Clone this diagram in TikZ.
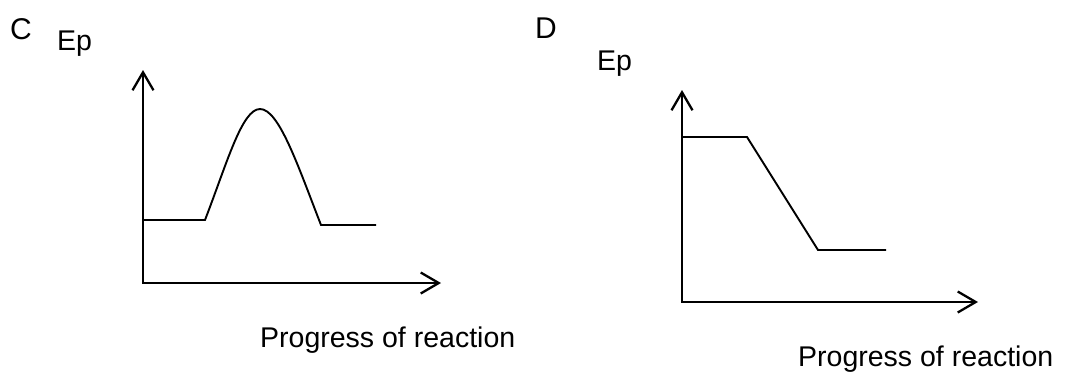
\documentclass[tikz,border=0pt]{standalone}
\usepackage{fontspec}
\setmainfont{Liberation Sans}
\usetikzlibrary{arrows.meta}
\tikzset{
  lbl/.style={inner sep=0pt, anchor=base west, font=\fontsize{28.5}{34}\selectfont},
  letter/.style={lbl, font=\fontsize{30}{36}\selectfont},
  axis/.style={line width=2.3pt, {Straight Barb[length=18pt,width=21pt]}-{Straight Barb[length=18pt,width=21pt]}},
  curve/.style={line width=1.9pt, line join=miter}
}
\begin{document}
\begin{tikzpicture}[x=1pt,y=-1pt]
\useasboundingbox (0,0) rectangle (1067,376);
% panel C
\node[letter] (labC) at (10,39) {C};
\node[lbl] (epC) at (57,50) {Ep};
\coordinate (Co) at (143,283);
\coordinate (Cy) at (143,70);
\coordinate (Cx) at (441,283);
\draw[axis] (Cy) -- (Co) -- (Cx);
\coordinate (C1) at (143,220);
\coordinate (C2) at (205,220);
\coordinate (C3) at (260,109);
\coordinate (C4) at (321,225);
\coordinate (C5) at (376,225);
\draw[curve] (C1) -- (C2) .. controls (227,163) and (242,109) .. (C3)
  .. controls (279,109) and (298,166) .. (C4) -- (C5);
\node[lbl] (progC) at (260,347) {Progress of reaction};
% panel D
\node[letter] (labD) at (535,38) {D};
\node[lbl] (epD) at (597,70) {Ep};
\coordinate (Do) at (682,302);
\coordinate (Dy) at (682,90);
\coordinate (Dx) at (978,302);
\draw[axis] (Dy) -- (Do) -- (Dx);
\coordinate (D1) at (682,137);
\coordinate (D2) at (747,137);
\coordinate (D3) at (818,250);
\coordinate (D4) at (886,250);
\draw[curve] (D1) -- (D2) -- (D3) -- (D4);
\node[lbl] (progD) at (798,366) {Progress of reaction};
\end{tikzpicture}
\end{document}
